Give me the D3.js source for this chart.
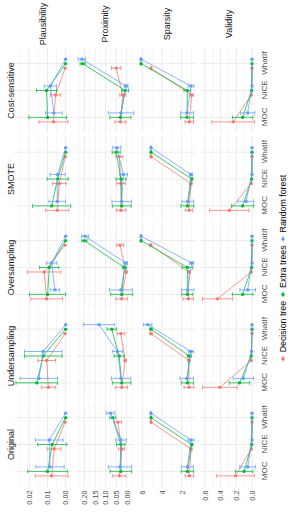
<!DOCTYPE html>
<html>
<head>
<meta charset="utf-8">
<script src="https://cdn.jsdelivr.net/npm/d3@7"></script>
<style>
  body { margin: 0; background: #fff; }
  svg { display: block; }
  text { font-family: "Liberation Sans", Arial, sans-serif; }
</style>
</head>
<body>
<div id="chart"></div>
<script>
const methods = ["Original", "Undersampling", "Oversampling", "SMOTE", "Cost-sensitive"];
const metrics = ["Plausibility", "Proximity", "Sparsity", "Validity"];
const generators = ["MOC", "NICE", "WhatIf"];
const models = ["Decision tree", "Extra trees", "Random forest"];
const modelColors = ["#F8766D", "#00BA38", "#619CFF"];

// [method][model][MOC, NICE, WhatIf]
const plausibilityMean = [
  [[0.0077, 0.0063, 0.0003], [0.0099, 0.0074, 0.0000], [0.0086, 0.0090, 0.0000]],
  [[0.0095, 0.0104, 0.0003], [0.0159, 0.0123, 0.0000], [0.0147, 0.0123, 0.0000]],
  [[0.0104, 0.0118, 0.0003], [0.0099, 0.0090, 0.0000], [0.0059, 0.0077, 0.0000]],
  [[0.0046, 0.0035, 0.0002], [0.0077, 0.0044, 0.0000], [0.0046, 0.0044, 0.0000]],
  [[0.0067, 0.0055, 0.0003], [0.0099, 0.0105, 0.0000], [0.0065, 0.0084, 0.0000]]
];
const plausibilitySd = [
  [[0.0090, 0.0038, 0], [0.0110, 0.0080, 0], [0.0078, 0.0076, 0]],
  [[0.0038, 0.0048, 0], [0.0114, 0.0103, 0], [0.0103, 0.0103, 0]],
  [[0.0087, 0.0092, 0], [0.0099, 0.0053, 0], [0.0026, 0.0029, 0]],
  [[0.0064, 0.0038, 0], [0.0105, 0.0058, 0], [0.0046, 0.0041, 0]],
  [[0.0080, 0.0028, 0], [0.0104, 0.0055, 0], [0.0046, 0.0034, 0]]
];

const proximityMean = [
  [[0.035, 0.024, 0.042], [0.028, 0.028, 0.066], [0.032, 0.027, 0.076]],
  [[0.024, 0.008, 0.028], [0.024, 0.036, 0.071], [0.027, 0.044, 0.131]],
  [[0.024, 0.003, 0.032], [0.024, 0.011, 0.200], [0.028, 0.005, 0.197]],
  [[0.027, 0.028, 0.035], [0.024, 0.027, 0.050], [0.024, 0.016, 0.047]],
  [[0.030, 0.019, 0.050], [0.030, 0.008, 0.208], [0.027, 0.003, 0.212]]
];
const proximitySd = [
  [[0.031, 0.014, 0.018], [0.051, 0.020, 0.014], [0.055, 0.025, 0.020]],
  [[0.028, 0.004, 0.018], [0.044, 0.024, 0.022], [0.045, 0.024, 0.073]],
  [[0.028, 0.004, 0.017], [0.052, 0.010, 0.012], [0.053, 0.009, 0.016]],
  [[0.022, 0.021, 0.017], [0.044, 0.024, 0.019], [0.046, 0.019, 0.019]],
  [[0.026, 0.014, 0.022], [0.050, 0.016, 0.012], [0.060, 0.009, 0.017]]
];

const sparsityMean = [
  [[1.23, 1.06, 5.12], [1.43, 0.99, 5.12], [1.43, 1.06, 5.12]],
  [[1.26, 1.26, 5.12], [1.43, 1.23, 5.12], [1.49, 1.06, 5.45]],
  [[1.33, 1.26, 5.15], [1.43, 1.43, 6.13], [1.39, 0.99, 6.13]],
  [[1.26, 1.06, 5.12], [1.43, 0.99, 5.12], [1.39, 1.06, 5.12]],
  [[1.23, 0.99, 5.12], [1.46, 1.43, 6.13], [1.46, 1.06, 6.13]]
];
const sparsitySd = [
  [[0.42, 0.10, 0.05], [0.63, 0.10, 0.05], [0.60, 0.30, 0.05]],
  [[0.51, 0.10, 0.10], [0.61, 0.20, 0.10], [0.68, 0.25, 0.42]],
  [[0.54, 0.10, 0.10], [0.56, 0.54, 0.05], [0.63, 0.20, 0.05]],
  [[0.37, 0.10, 0.05], [0.65, 0.10, 0.05], [0.60, 0.15, 0.05]],
  [[0.42, 0.15, 0.05], [0.65, 0.34, 0.05], [0.65, 0.30, 0.05]]
];

const validityMean = [
  [[0.21, 0.010, 0], [0.10, 0.005, 0], [0.055, 0.000, 0]],
  [[0.41, 0.010, 0], [0.16, 0.010, 0], [0.110, 0.005, 0]],
  [[0.44, 0.010, 0], [0.12, 0.005, 0], [0.055, 0.000, 0]],
  [[0.29, 0.010, 0], [0.12, 0.005, 0], [0.076, 0.000, 0]],
  [[0.24, 0.010, 0], [0.12, 0.005, 0], [0.055, 0.000, 0]]
];
const validitySd = [
  [[0.24, 0, 0], [0.11, 0, 0], [0.10, 0, 0]],
  [[0.22, 0, 0], [0.13, 0, 0], [0.13, 0, 0]],
  [[0.19, 0, 0], [0.13, 0, 0], [0.10, 0, 0]],
  [[0.25, 0, 0], [0.14, 0, 0], [0.10, 0, 0]],
  [[0.27, 0, 0], [0.13, 0, 0], [0.09, 0, 0]]
];

const plausibilityTicks = [0, 0.01, 0.02];
const proximityTicks = [0, 0.05, 0.10, 0.15, 0.20];
const sparsityTicks = [2, 4, 6];
const validityTicks = [0, 0.2, 0.4, 0.6];
const plausibilityLabels = ["0.00", "0.01", "0.02"];
const proximityLabels = ["0.00", "0.05", "0.10", "0.15", "0.20"];
const sparsityLabels = ["2", "4", "6"];
const validityLabels = ["0.0", "0.2", "0.4", "0.6"];

const plausibilityLimits = [-0.0035, 0.0281];
const proximityLimits = [-0.034, 0.237];
const sparsityLimits = [0.55, 6.39];
const validityLimits = [-0.076, 0.656];

const means = [plausibilityMean, proximityMean, sparsityMean, validityMean];
const sds = [plausibilitySd, proximitySd, sparsitySd, validitySd];
const ticks = [plausibilityTicks, proximityTicks, sparsityTicks, validityTicks];
const tickLabels = [plausibilityLabels, proximityLabels, sparsityLabels, validityLabels];
const limits = [plausibilityLimits, proximityLimits, sparsityLimits, validityLimits];

// the plot is drawn landscape and turned a quarter turn counter-clockwise
const W = 519, H = 292;
const plotLeft = 31.5, plotRight = 471.5, gapX = 2.5;
const pw = (plotRight - plotLeft - 4 * gapX) / 5;
const plotTop = 14.5, ph = 57.5, gapY = 4.5;

const svg = d3.select("#chart").append("svg")
    .attr("width", H)
    .attr("height", W);

const g = svg.append("g")
    .attr("transform", `translate(0,${W}) rotate(-90)`);

const gridLayer = g.append("g");
const dataLayer = g.append("g");

metrics.forEach((metric, r) => {
    const y0 = plotTop + r * (ph + gapY);
    const y = d3.scaleLinear().domain(limits[r]).range([y0 + ph, y0]);
    const t = ticks[r];
    const step = t[1] - t[0];
    const minors = d3.range(t.length + 1).map(i => t[0] - step / 2 + i * step)
        .filter(v => v >= limits[r][0] && v <= limits[r][1]);

    methods.forEach((method, c) => {
        const x0 = plotLeft + c * (pw + gapX);
        const x = d3.scalePoint().domain(generators).range([x0, x0 + pw]).padding(0.6);
        const dodge = x.step() * 0.5 / 3;

        // grid
        gridLayer.selectAll(null).data(minors).enter().append("line")
            .attr("x1", x0).attr("x2", x0 + pw)
            .attr("y1", d => y(d)).attr("y2", d => y(d))
            .attr("stroke", "#ebebeb").attr("stroke-width", 0.5);
        gridLayer.selectAll(null).data(t).enter().append("line")
            .attr("x1", x0).attr("x2", x0 + pw)
            .attr("y1", d => y(d)).attr("y2", d => y(d))
            .attr("stroke", "#ebebeb").attr("stroke-width", 1);
        gridLayer.selectAll(null).data(generators).enter().append("line")
            .attr("x1", d => x(d)).attr("x2", d => x(d))
            .attr("y1", y0).attr("y2", y0 + ph)
            .attr("stroke", "#ebebeb").attr("stroke-width", 1);

        // series
        models.forEach((model, m) => {
            const pts = generators.map((gen, k) => ({
                x: x(gen) + (m - 1) * dodge,
                mean: means[r][c][m][k],
                sd: sds[r][c][m][k]
            }));
            const col = modelColors[m];
            const eb = dataLayer.append("g")
                .attr("stroke", col).attr("stroke-opacity", 0.75).attr("stroke-width", 1).attr("fill", "none");
            pts.filter(p => p.sd > 0).forEach(p => {
                const ya = y(p.mean - p.sd), yb = y(p.mean + p.sd);
                eb.append("path")
                    .attr("d", `M${p.x - 2},${ya}H${p.x + 2}M${p.x},${ya}V${yb}M${p.x - 2},${yb}H${p.x + 2}`);
            });
            dataLayer.append("path")
                .datum(pts)
                .attr("fill", "none")
                .attr("stroke", col)
                .attr("stroke-opacity", 0.75)
                .attr("stroke-width", 1)
                .attr("d", d3.line().x(p => p.x).y(p => y(p.mean)));
            dataLayer.selectAll(null).data(pts).enter().append("circle")
                .attr("cx", p => p.x).attr("cy", p => y(p.mean))
                .attr("r", 1.7)
                .attr("fill", col);
        });

        if (c === 0) {
            const ax = g.append("g")
                .attr("transform", `translate(${x0},0)`)
                .call(d3.axisLeft(y).tickValues(t).tickFormat((d, i) => tickLabels[r][i]).tickSize(0).tickPadding(3));
            ax.select(".domain").remove();
            ax.attr("font-family", null).attr("font-size", null);
            ax.selectAll("text").attr("fill", "#4d4d4d").style("font-size", "7.3px");
        }
        if (r === metrics.length - 1) {
            const ax = g.append("g")
                .attr("transform", `translate(0,${y0 + ph})`)
                .call(d3.axisBottom(x).tickSize(0).tickPadding(3.8));
            ax.select(".domain").remove();
            ax.attr("font-family", null).attr("font-size", null);
            ax.selectAll("text").attr("fill", "#4d4d4d").style("font-size", "8px");
        }
        if (r === 0) {
            g.append("text")
                .attr("x", x0 + pw / 2).attr("y", 13.5)
                .attr("text-anchor", "middle")
                .attr("fill", "#1a1a1a")
                .style("font-size", "9px")
                .text(method);
        }
        if (c === methods.length - 1) {
            g.append("text")
                .attr("x", 495).attr("y", y0 + ph / 2)
                .attr("dy", "0.35em")
                .attr("text-anchor", "middle")
                .attr("fill", "#1a1a1a")
                .style("font-size", "9px")
                .text(metric);
        }
    });
});

// legend
const legend = g.append("g");
const items = legend.selectAll("g").data(models).enter().append("g");
items.append("line")
    .attr("x1", -3).attr("x2", 3)
    .attr("stroke", (d, i) => modelColors[i]).attr("stroke-opacity", 0.75);
items.append("circle").attr("r", 1.7).attr("fill", (d, i) => modelColors[i]);
items.append("text")
    .attr("x", 6.5).attr("dy", "0.35em")
    .style("font-size", "8.8px")
    .attr("fill", "#000")
    .text(d => d);
let cursor = 0;
items.each(function () {
    const w = d3.select(this).select("text").node().getComputedTextLength();
    d3.select(this).attr("data-off", cursor);
    cursor += 6.5 + w + 6.5;
});
const totalW = cursor - 6.5 + 3.5;
items.attr("transform", function () {
    const off = +d3.select(this).attr("data-off");
    return `translate(${250.5 - totalW / 2 + 3.5 + off},283)`;
});
</script>
</body>
</html>
